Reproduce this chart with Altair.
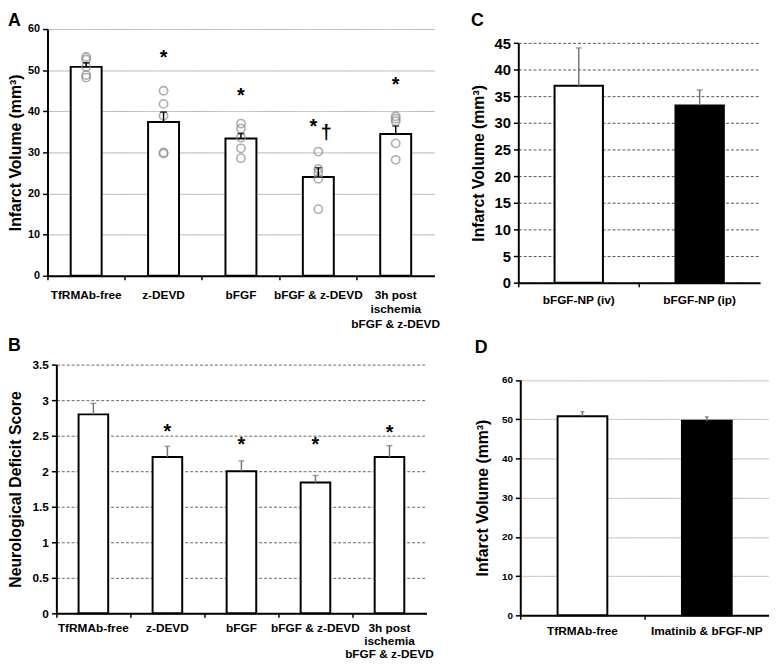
import altair as alt
import pandas as pd

FONT = "Liberation Sans"

# ---------------- Panel A ----------------
a_cats = ["TfRMAb-free", "z-DEVD", "bFGF", "bFGF & z-DEVD", "3h post|ischemia|bFGF & z-DEVD"]
a_mean = [50.8, 37.4, 33.4, 24.0, 34.5]
a_sem = [1.0, 2.4, 1.2, 2.3, 1.9]
a_fill = ["white"] * 5
a_pts = [
    [53.2, 52.6, 50.8, 48.8, 48.2],
    [45.0, 41.8, 38.9, 30.0, 29.7],
    [37.0, 35.8, 33.6, 31.0, 28.6],
    [30.2, 26.0, 25.0, 23.6, 16.2],
    [38.8, 38.2, 37.6, 32.2, 28.2],
]
a_star_cats = ["z-DEVD", "bFGF", "3h post|ischemia|bFGF & z-DEVD"]
a_star_y = [53.4, 44.2, 46.8]
a_pair_cat = "bFGF & z-DEVD"
a_pair_star_y = 36.6
a_pair_dagger_y = 34.8
a_yticks = [0, 10, 20, 30, 40, 50, 60]

# ---------------- Panel B ----------------
b_cats = a_cats
b_mean = [2.8, 2.2, 2.0, 1.84, 2.2]
b_err = [0.155, 0.15, 0.145, 0.10, 0.16]
b_fill = ["white"] * 5
b_star_cats = ["z-DEVD", "bFGF", "bFGF & z-DEVD", "3h post|ischemia|bFGF & z-DEVD"]
b_star_y = [2.58, 2.4, 2.4, 2.56]
b_yticks = [0, 0.5, 1, 1.5, 2, 2.5, 3, 3.5]

# ---------------- Panel C ----------------
c_cats = ["bFGF-NP (iv)", "bFGF-NP (ip)"]
c_mean = [37.0, 33.3]
c_err = [7.1, 2.9]
c_fill = ["white", "black"]
c_yticks = [0, 5, 10, 15, 20, 25, 30, 35, 40, 45]

# ---------------- Panel D ----------------
d_cats = ["TfRMAb-free", "Imatinib & bFGF-NP"]
d_mean = [50.75, 49.6]
d_err = [1.15, 1.0]
d_fill = ["white", "black"]
d_yticks = [0, 10, 20, 30, 40, 50, 60]


def make_panel(cats, means, errs, fills, yticks, w, h, letter, ytitle,
               grid_color, grid_dash, err_color, cap, ylab_size, xlab_size,
               extent, tpad, letter_offset, xlab_pad, top_gap=0, left_shift=0,
               line_h=14.5, title_size=16, points=None, stars=None, pair=None):
    df = pd.DataFrame({"cat": cats, "y": means,
                       "y2": [m + e for m, e in zip(means, errs)],
                       "fill": fills})
    x = alt.X("cat:N", sort=cats,
              scale=alt.Scale(paddingInner=0, paddingOuter=0, range=[-left_shift, w]),
              axis=alt.Axis(title=None, labelAngle=0, bandPosition=0,
                            labelExpr="split(datum.label, '|')",
                            labelFont=FONT, labelFontWeight="bold",
                            labelFontSize=xlab_size, labelColor="black",
                            labelLineHeight=line_h,
                            labelPadding=xlab_pad, tickSize=4, tickColor="black",
                            tickWidth=1.5, domainColor="black", domainWidth=2,
                            grid=False))
    yscale = alt.Scale(domain=[0, yticks[-1]], nice=False, range=[h, top_gap])
    yaxis = alt.Axis(title=ytitle, values=yticks, format="~f", grid=True,
                     gridColor=grid_color, gridDash=grid_dash, gridWidth=1,
                     domainColor="black", domainWidth=2, offset=left_shift,
                     tickColor="black", tickSize=5, tickWidth=1.5,
                     labelFont=FONT, labelFontWeight="bold", labelFontSize=ylab_size,
                     labelColor="black", labelPadding=3,
                     minExtent=extent, maxExtent=extent,
                     titleFont=FONT, titleFontWeight="bold", titleFontSize=title_size,
                     titleColor="black", titlePadding=tpad)

    def Y(field):
        return alt.Y(field, scale=yscale, axis=yaxis)

    bars = alt.Chart(df).mark_bar(width=alt.RelativeBandSize(0.4), stroke="black",
                                  strokeWidth=2).encode(
        x=x, y=Y("y:Q"), fill=alt.Fill("fill:N", scale=None))
    layers = [bars]
    if points is not None:
        rows = [{"cat": c, "y": v} for c, vals in zip(cats, points) for v in vals]
        layers.append(alt.Chart(pd.DataFrame(rows)).mark_point(
            shape="circle", filled=False, size=70, stroke="#8a8a8a",
            strokeWidth=1.6).encode(x=x, y=Y("y:Q")))
    layers.append(alt.Chart(df).mark_rule(color=err_color, strokeWidth=1.5).encode(
        x=x, y=Y("y:Q"), y2="y2:Q"))
    layers.append(alt.Chart(df).mark_tick(color=err_color, size=cap, thickness=1.5).encode(
        x=x, y=Y("y2:Q")))
    if stars is not None:
        sdf = pd.DataFrame({"cat": stars[0], "y": stars[1], "t": ["*"] * len(stars[0])})
        layers.append(alt.Chart(sdf).mark_text(font=FONT, fontWeight="bold", fontSize=20,
                                               baseline="middle", dy=2, color="black").encode(
            x=x, y=Y("y:Q"), text="t:N"))
    if pair is not None:
        pdf1 = pd.DataFrame({"cat": [pair[0]], "y": [pair[1]], "t": ["*"]})
        pdf2 = pd.DataFrame({"cat": [pair[0]], "y": [pair[2]], "t": ["\u2020"]})
        layers.append(alt.Chart(pdf1).mark_text(font=FONT, fontWeight="bold", fontSize=20,
                                                baseline="middle", dy=2, dx=-5, color="black").encode(
            x=x, y=Y("y:Q"), text="t:N"))
        layers.append(alt.Chart(pdf2).mark_text(font=FONT, fontWeight="bold", fontSize=20,
                                                baseline="middle", dx=8, color="black").encode(
            x=x, y=Y("y:Q"), text="t:N"))
    return alt.layer(*layers).properties(
        width=w, height=h,
        title=alt.TitleParams(text=letter, anchor="start", frame="bounds", font=FONT,
                              fontWeight="bold", fontSize=18, color="black",
                              offset=letter_offset))


panel_a = make_panel(a_cats, a_mean, a_sem, a_fill, a_yticks, 383, 250, "A",
                     "Infarct Volume (mm\u00b3)", "#b4b4b4", [1, 0], "black", 7,
                     11, 12, 20, 4, -7, 10, left_shift=9,
                     points=a_pts, stars=(a_star_cats, a_star_y),
                     pair=(a_pair_cat, a_pair_star_y, a_pair_dagger_y))
panel_b = make_panel(b_cats, b_mean, b_err, b_fill, b_yticks, 375, 252, "B",
                     "Neurological Deficit Score", "#666666", [3, 2], "#777777", 6,
                     12, 12, 27, 6, 4, 5, line_h=13.5,
                     stars=(b_star_cats, b_star_y))
panel_c = make_panel(c_cats, c_mean, c_err, c_fill, c_yticks, 245, 257, "C",
                     "Infarct Volume (mm\u00b3)", "#555555", [3, 2], "#777777", 6,
                     15, 12, 28, 4, -1, 8, top_gap=14.3)
panel_d = make_panel(d_cats, d_mean, d_err, d_fill, d_yticks, 252, 254, "D",
                     "Infarct Volume (mm\u00b3)", "#bbbbbb", [1, 0], "#777777", 4,
                     10, 12, 21, 9, 8, 6, top_gap=15.5)

row1 = alt.hconcat(panel_a, panel_c, spacing=28)
row2 = alt.hconcat(panel_b, panel_d, spacing=42)
chart = alt.vconcat(row1, row2, spacing=8).properties(padding=0).configure_view(stroke=None)

chart.save("out.html", embed_options={"renderer": "svg", "actions": False})
